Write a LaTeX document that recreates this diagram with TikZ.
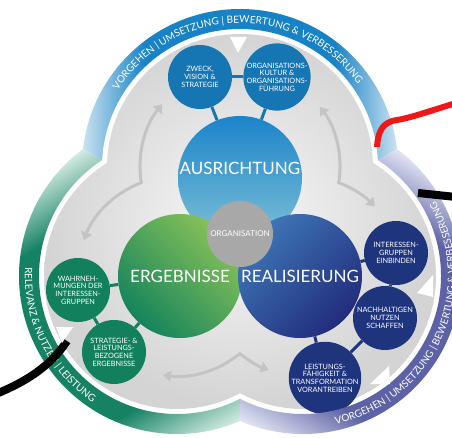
\documentclass[tikz,border=0pt]{standalone}
\usepackage{fontspec}
\setmainfont{Lato}
\usetikzlibrary{arrows.meta,decorations.text}

\definecolor{topdark}{RGB}{24,130,198}
\definecolor{toplight}{RGB}{205,228,242}
\definecolor{greendark}{RGB}{22,130,100}
\definecolor{greenlight}{RGB}{212,236,227}
\definecolor{navydark}{RGB}{92,98,165}
\definecolor{navylight}{RGB}{228,230,244}
\definecolor{topsat}{RGB}{22,118,180}
\definecolor{greensat}{RGB}{18,128,92}
\definecolor{navysat}{RGB}{30,52,125}
\definecolor{arrowgray}{RGB}{196,196,196}
\definecolor{orggray}{RGB}{168,168,168}
\definecolor{linered}{RGB}{238,24,24}

\pgfdeclareverticalshading{bandtop}{100bp}{color(0bp)=(toplight); color(25bp)=(toplight); color(35bp)=(topdark); color(65bp)=(topdark); color(75bp)=(toplight); color(100bp)=(toplight)}
\pgfdeclareverticalshading{bandgreen}{100bp}{color(0bp)=(greenlight); color(25bp)=(greenlight); color(35bp)=(greendark); color(65bp)=(greendark); color(75bp)=(greenlight); color(100bp)=(greenlight)}
\pgfdeclareverticalshading{bandnavy}{100bp}{color(0bp)=(navylight); color(25bp)=(navylight); color(35bp)=(navydark); color(65bp)=(navydark); color(75bp)=(navylight); color(100bp)=(navylight)}

\newcommand\bandfont{\fontsize{10}{12}\selectfont}

\begin{document}
\begin{tikzpicture}[x=1pt,y=1pt]
\tikzstyle{sat}=[circle,minimum size=64pt,inner sep=0pt,text=white,align=center,font=\fontsize{7.3}{7.7}\selectfont]
\tikzstyle{hub}=[circle,minimum size=124pt,inner sep=0pt,text=white,font=\fontsize{17}{20}\selectfont]
\tikzstyle{link}=[line width=3pt]
\tikzstyle{cyclearrow}=[arrowgray,line width=3pt,{Triangle[width=11pt,length=8pt]}-{Triangle[width=11pt,length=8pt]}]
\tikzstyle{bandtext}=[decorate,decoration={text along path,text align=center,text color=white,text format delimiters={[}{]}}]
\tikzstyle{thickline}=[line width=8pt]

\useasboundingbox (0,0) rectangle (452,437);
\clip (0,0) rectangle (452,437);

\coordinate (T) at (240,270);
\coordinate (L) at (177,161);
\coordinate (R) at (303,161);
\coordinate (G) at (240,197);

\shade[inner color=gray!5,outer color=gray!34] (T) circle (133) (L) circle (133) (R) circle (133);

\draw[cyclearrow] ([shift={(141:100)}]T) arc[start angle=141,end angle=189,radius=100] arc[start angle=111,end angle=159,radius=100];
\draw[cyclearrow] ([shift={(37:100)}]T) arc[start angle=37,end angle=-9,radius=100] arc[start angle=69,end angle=44,radius=100];
\draw[cyclearrow] ([shift={(262:100)}]L) arc[start angle=262,end angle=309,radius=100] arc[start angle=231,end angle=250,radius=100];

\node[hub,top color={rgb,255:red,28;green,132;blue,202},bottom color={rgb,255:red,125;green,192;blue,214},
      label={[text=white,font=\fontsize{17}{20}\selectfont,yshift=10pt]center:AUSRICHTUNG}] (ausrichtung) at (240,259) {};
\node[hub,top color={rgb,255:red,138;green,194;blue,88},bottom color={rgb,255:red,20;green,132;blue,92},shading angle=-45] (ergebnisse) at (180,161) {ERGEBNISSE};
\node[hub,top color={rgb,255:red,62;green,118;blue,182},bottom color={rgb,255:red,34;green,44;blue,124},shading angle=45] (realisierung) at (300,161) {REALISIERUNG};
\node[circle,minimum size=66pt,inner sep=0pt,fill=orggray,text=white,font=\fontsize{8}{9}\selectfont] (organisation) at (240,203) {ORGANISATION};

\node[sat,fill=topsat] (zweck) at (200,360) {ZWECK,\\VISION \&\\STRATEGIE};
\node[sat,fill=topsat] (kultur) [right of=zweck,node distance=77pt] {ORGANISATIONS-\\KULTUR \&\\ORGANISATIONS-\\FÜHRUNG};
\node[sat,fill=greensat] (wahrnehmung) at (78,147) {WAHRNEH-\\MUNGEN DER\\INTERESSEN-\\GRUPPEN};
\node[sat,fill=greensat] (ergebnisbezug) at (114,85) {STRATEGIE- \&\\LEISTUNGS-\\BEZOGENE\\ERGEBNISSE};
\node[sat,fill=navysat] (einbinden) at (396,184) {INTERESSEN-\\GRUPPEN\\EINBINDEN};
\node[sat,fill=navysat] (nutzen) at (385,119) {NACHHALTIGEN\\NUTZEN\\SCHAFFEN};
\node[sat,fill=navysat] (transformation) at (325,59) {LEISTUNGS-\\FÄHIGKEIT \&\\TRANSFORMATION\\VORANTREIBEN};

\path[link,topsat]
(zweck) edge (kultur)
(zweck) edge (ausrichtung)
(kultur) edge (ausrichtung);
\path[link,greensat]
(wahrnehmung) edge (ergebnisse)
(wahrnehmung) edge (ergebnisbezug)
(ergebnisbezug) edge (ergebnisse);
\path[link,navysat]
(einbinden) edge (realisierung)
(einbinden) edge (nutzen)
(nutzen) edge (transformation)
(transformation) edge (realisierung);

\begin{scope}
\clip (G) -- (-106,397) -- (-106,700) -- (586,700) -- (586,397) -- cycle;
\shade[shading=bandtop,shading angle=90,even odd rule] (T) circle (158) (T) circle (138);
\end{scope}
\begin{scope}
\clip (G) -- (-106,397) -- (-300,397) -- (-300,-203) -- (240,-203) -- cycle;
\shade[shading=bandgreen,shading angle=30,even odd rule] (L) circle (158) (L) circle (138);
\end{scope}
\begin{scope}
\clip (G) -- (586,397) -- (800,397) -- (800,-203) -- (240,-203) -- cycle;
\shade[shading=bandnavy,shading angle=-30,even odd rule] (R) circle (158) (R) circle (138);
\end{scope}

\path[bandtext,decoration={text={[\bandfont]VORGEHEN | UMSETZUNG | BEWERTUNG {\&} VERBESSERUNG}}]
  ([shift={(150:144)}]T) arc[start angle=150,end angle=33,radius=144];
\path[bandtext,decoration={text={[\bandfont]RELEVANZ {\&} NUTZEN | LEISTUNG}}]
  ([shift={(170:152)}]L) arc[start angle=170,end angle=243,radius=152];
\path[bandtext,decoration={text={[\bandfont]VORGEHEN | UMSETZUNG | BEWERTUNG {\&} VERBESSERUNG}}]
  ([shift={(276:152)}]R) arc[start angle=276,end angle=396,radius=152];

\draw[thickline,linered,line width=6pt] (377,290) .. controls (378,305) and (382,315) .. (397,317) .. controls (410,319) and (430,326) .. (456,334);
\draw[thickline] (418,244) -- (456,240);
\draw[thickline] (-4,43) .. controls (25,55) and (50,70) .. (67,96);

\fill[white] (230,400) -- (247,400) -- (238,384) -- cycle;
\fill[white] (56,110) -- (73,110) -- (62,94) -- cycle;
\fill[white] (433,162) -- (433,140) -- (417,144) -- cycle;
\fill[white] (370,53) -- (389,71) -- (390,53) -- cycle;
\end{tikzpicture}
\end{document}
